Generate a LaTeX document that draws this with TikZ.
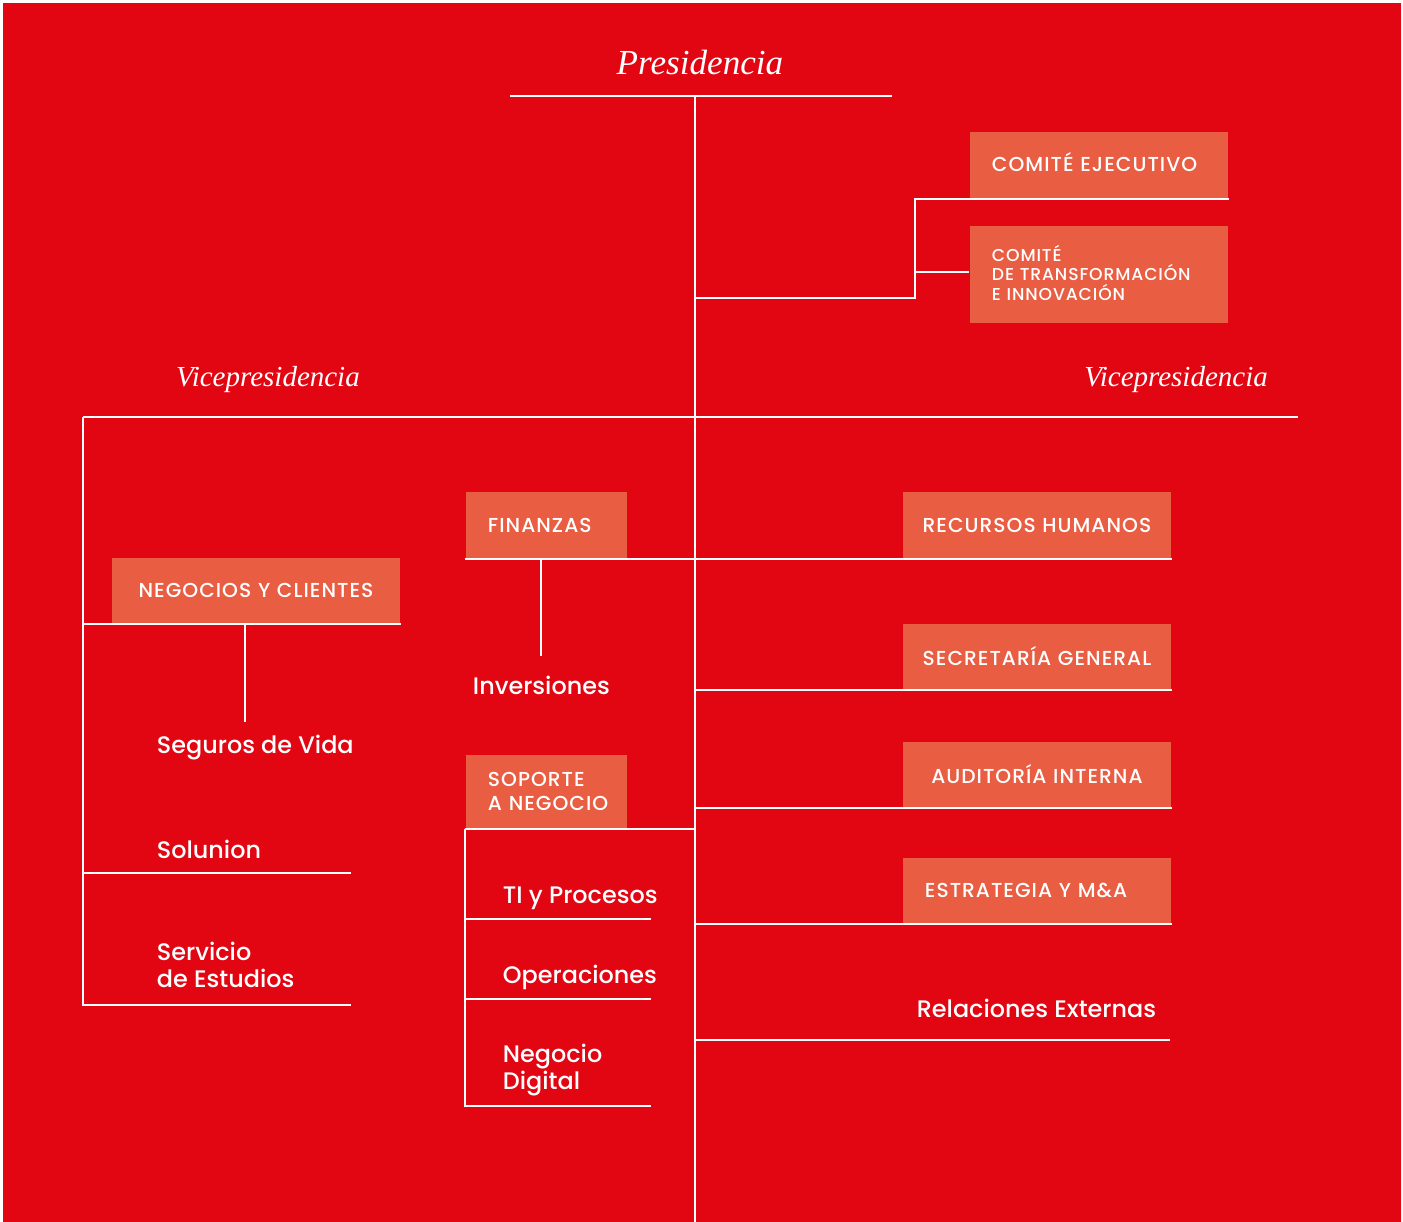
\documentclass[tikz,border=0pt]{standalone}
\usepackage{fontspec}
\newfontfamily\orgfont{Poppins Medium}
\newfontfamily\orgcaps{Poppins Medium}[LetterSpace=5]
\newfontfamily\titlefont{Liberation Serif}
\usetikzlibrary{positioning}

\definecolor{bgred}{HTML}{E20613}
\definecolor{boxred}{HTML}{E95D42}

\newlength\pxl
\setlength\pxl{0.02cm}

\begin{document}
\begin{tikzpicture}[x=0.02cm, y=-0.02cm,
                    line width=1.1pt, draw=white,
                    title/.style={text=white, inner sep=0pt, font=\titlefont\itshape\fontsize{16.5}{20}\selectfont},
                    unit/.style={fill=boxred, text=white, anchor=north west, inner ysep=0pt, inner xsep=22\pxl,
                                 align=left, font=\orgcaps\fontsize{11.5}{13.7}\selectfont},
                    wideunit/.style={unit, inner xsep=10\pxl, text width=248\pxl, align=center},
                    leaf/.style={text=white, anchor=west, inner sep=0pt, align=left,
                                 font=\orgfont\fontsize{13.6}{15.5}\selectfont}]

% Background
\useasboundingbox (0,0) rectangle (1403,1222);
\fill[bgred] (3,3) rectangle (1401,1222);

% Titles
\node (pres) [title, font=\titlefont\itshape\fontsize{20}{24}\selectfont] at (700,62) {Presidencia};
\node (vpl) [title] at (268,380) {Vicepresidencia};
\node (vpr) [title] at (1176,380) {Vicepresidencia};

% Boxes
\node (ejec) [unit, text width=214\pxl, minimum height=66\pxl, text height=0.72em, text depth=0pt] at (969,131) {\mbox{COMITÉ EJECUTIVO}};
\node (innov) [unit, text width=214\pxl, minimum height=97\pxl, text height=0.72em,
               font=\orgcaps\fontsize{9.8}{11}\selectfont] at (969,225) {COMITÉ\\\mbox{DE TRANSFORMACIÓN}\\\mbox{E INNOVACIÓN}};
\node (negocios) [unit, text width=244\pxl, minimum height=65\pxl, align=center] at (111,557) {\mbox{NEGOCIOS Y CLIENTES}};
\node (finanzas) [unit, text width=117\pxl, minimum height=66\pxl] at (465,491) {\mbox{FINANZAS}};
\node (soporte) [unit, text width=117\pxl, minimum height=73\pxl] at (465,754) {\mbox{SOPORTE}\\\mbox{A NEGOCIO}};
\node (rrhh) [wideunit, minimum height=66\pxl] at (902,491) {\mbox{RECURSOS HUMANOS}};
\node (secgen) [wideunit, minimum height=65\pxl] at (902,623) {\mbox{SECRETARÍA GENERAL}};
\node (audit) [wideunit, minimum height=65\pxl] at (902,741) {\mbox{AUDITORÍA INTERNA}};
\node (estrat) [unit, text width=224\pxl, minimum height=65\pxl] at (902,857) {\mbox{ESTRATEGIA Y M\&A}};

% Areas without box
\node (vida) [leaf] at (156,748) {Seguros de Vida};
\node (solunion) [leaf] at (156,849) {Solunion};
\node (estudios) [leaf] at (156,965) {Servicio\\de Estudios};
\node (inversiones) [leaf] at (472,685) {Inversiones};
\node (ti) [leaf] at (502,898) {TI y Procesos};
\node (operaciones) [leaf] at (502,977) {Operaciones};
\node (digital) [leaf] at (502,1070) {Negocio\\Digital};
\node (externas) [leaf, anchor=east] at (1157,1008) {Relaciones Externas};

% Skeleton
\coordinate (presL) at (510,96);
\coordinate (presR) at (892,96);
\coordinate (top) at (695,96);
\coordinate (bottom) at (695,1222);
\coordinate (vpL) at (83,417);
\coordinate (vpR) at (1298,417);
\coordinate (cjoin) at (695,298);
\coordinate (cknee) at (915,298);
\coordinate (solEnd) at (351,873);
\coordinate (estEnd) at (351,1005);
\coordinate (extEnd) at (1170,1040);

% Lines
\draw (presL) -- (presR);
\draw (top) -- (bottom);
\draw (cjoin) -- (cknee) |- (ejec.south east);
\draw (cknee |- 0,272) -- (innov.west |- 0,272);
\draw (vpL) -- (vpR);
\draw (vpL) |- (estEnd);
\draw (negocios.south east) -- (negocios.south east -| vpL);
\draw (negocios.south -| 245,0) -- (245,722);
\draw (solEnd) -- (solEnd -| vpL);
\draw (finanzas.south west) -- (rrhh.south east);
\draw (finanzas.south -| 541,0) -- (541,656);
\draw (soporte.south west) -- (soporte.south west -| top);
\draw (soporte.south west) |- (651,1106);
\draw (466,919) -- (651,919);
\draw (466,999) -- (651,999);
\draw (secgen.south east) -- (secgen.south east -| top);
\draw (audit.south east) -- (audit.south east -| top);
\draw (estrat.south east) -- (estrat.south east -| top);
\draw (extEnd) -- (extEnd -| top);

\end{tikzpicture}
\end{document}
